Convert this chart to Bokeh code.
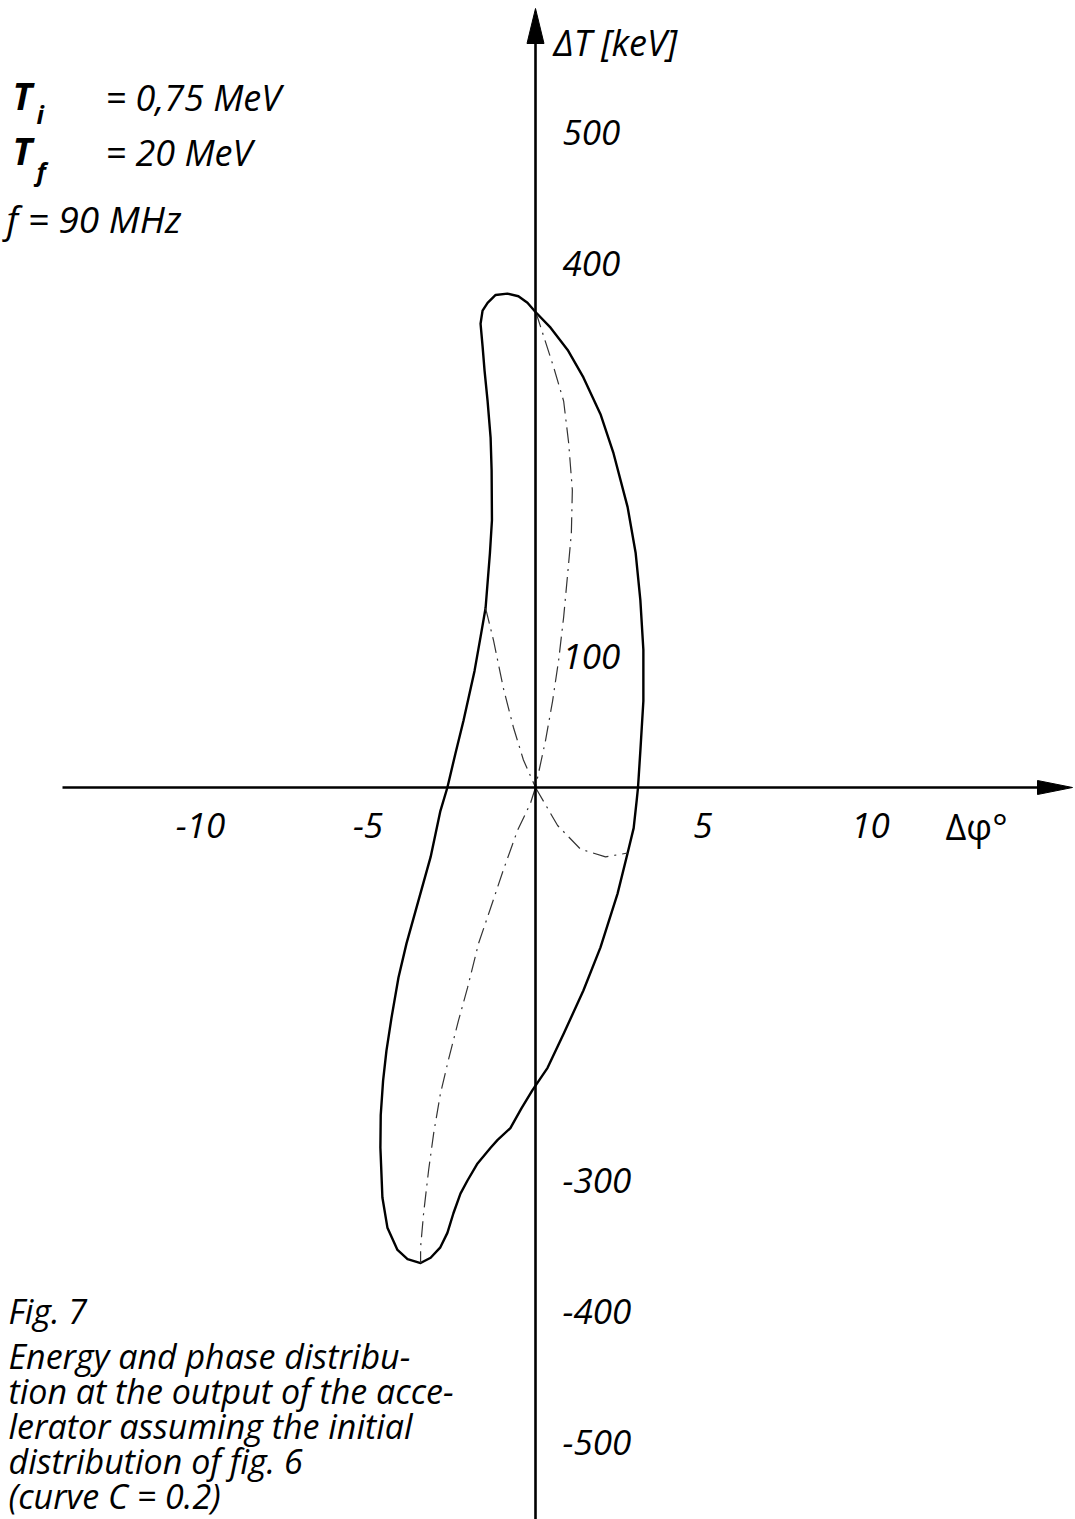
from bokeh.plotting import figure
from bokeh.models import Range1d, LinearAxis, FixedTicker, Label
from bokeh.embed import file_html
from bokeh.resources import INLINE

# Outer boundary of the bunch at the accelerator output (phase in degrees, energy in keV)
outer_dphi = [0.00, 0.45, 0.96, 1.43, 1.94, 2.33, 2.75, 2.99, 3.13, 3.22,
              3.22, 3.13, 3.06, 3.02, 2.93, 2.75, 2.45, 1.94, 1.43, 0.84,
              0.36, -0.09, -0.42, -0.75, -1.13, -1.34, -1.73, -2.03, -2.24, -2.45,
              -2.63, -2.84, -3.13, -3.43, -3.82, -4.12, -4.42, -4.57, -4.63, -4.62,
              -4.55, -4.45, -4.30, -4.09, -3.85, -3.49, -3.13, -2.84, -2.63, -2.39,
              -2.15, -1.82, -1.64, -1.49, -1.36, -1.30, -1.31, -1.34, -1.43, -1.52,
              -1.58, -1.64, -1.58, -1.43, -1.19, -0.84, -0.51, -0.24, 0.00]
outer_dT = [363, 351, 334, 313, 285, 255, 214, 179, 143, 105,
            66, 28, 0, -10, -31, -50, -81, -122, -155, -188,
            -214, -231, -245, -260, -269, -275, -287, -300, -310, -325,
            -340, -351, -359, -363, -360, -353, -336, -313, -275, -250,
            -224, -201, -176, -145, -119, -86, -53, -18, 0, 26,
            51, 89, 115, 137, 179, 204, 242, 267, 295, 318,
            337, 354, 364, 370, 376, 377, 375, 370, 363]

# Inner dash-dot trajectories
inner_a_dphi = [0.00, 0.06, 0.54, 0.84, 0.99, 1.10, 1.07, 0.96, 0.84, 0.69, 0.51, 0.30, 0.09, 0.00]
inner_a_dT = [363, 359, 321, 295, 263, 227, 194, 163, 130, 97, 66, 36, 11, 0]

inner_b_dphi = [-1.49, -1.25, -0.96, -0.66, -0.36, 0.00]
inner_b_dT = [137, 112, 76, 46, 21, 0]

inner_c_dphi = [0.00, -0.15, -0.54, -0.96, -1.34, -1.70, -2.03, -2.30, -2.60, -2.84, -3.04, -3.19, -3.34, -3.43, -3.43]
inner_c_dT = [0, -12, -33, -63, -92, -119, -153, -178, -208, -234, -264, -292, -325, -351, -363]

inner_d_dphi = [0.00, 0.66, 1.34, 2.09, 2.75]
inner_d_dT = [0, -29, -47, -53, -50]

# Axis ticks
x_ticks = [-10, -5, 5, 10]
x_tick_labels = ["-10", "-5", "5", "10"]
y_ticks = [500, 400, 100, -300, -400, -500]
y_tick_labels = ["500", "400", "100", "-300", "-400", "-500"]

# Canvas geometry
W, H = 1075, 1519
OX, OY = 535, 787          # origin on the canvas
SX, SY = 33.5, 1.31        # pixels per degree, pixels per keV

FONT = "Open Sans"


def to_data(px, py):
    return (px - OX) / SX, (OY - py) / SY


p = figure(width=W, height=H, output_backend="svg", toolbar_location=None,
           x_range=Range1d(-OX / SX, (W - OX) / SX),
           y_range=Range1d(-(H - OY) / SY, OY / SY),
           x_axis_location=None, y_axis_location=None,
           min_border=0, outline_line_color=None, background_fill_color="white")
p.grid.visible = False

x_start, _ = to_data(62, 0)
x_tip, _ = to_data(1072, 0)
x_base, _ = to_data(1037, 0)
_, y_tip = to_data(0, 8)
_, y_base = to_data(0, 43)

common = dict(fixed_location=0, axis_line_width=2.6, axis_line_color="black",
              major_tick_line_color=None, minor_tick_line_color=None,
              major_tick_out=0, major_tick_in=0,
              major_label_text_font=FONT, major_label_text_font_style="italic",
              major_label_text_font_size="35px", major_label_text_color="black")

xaxis = LinearAxis(ticker=FixedTicker(ticks=x_ticks), bounds=(x_start, x_base),
                   major_label_overrides=dict(zip(x_ticks, x_tick_labels)),
                   major_label_standoff=25, **common)
p.add_layout(xaxis, "below")

yaxis = LinearAxis(ticker=FixedTicker(ticks=y_ticks), bounds=(p.y_range.start, y_base),
                   major_label_overrides=dict(zip(y_ticks, y_tick_labels)),
                   major_label_standoff=27, **common)
p.add_layout(yaxis, "right")

# Arrow heads at the ends of the axes
hx = 7 / SY
p.patch([x_tip, x_base, x_base], [0, hx, -hx], color="black", line_width=1)
hy = 8.5 / SX
p.patch([0, -hy, hy], [y_tip, y_base, y_base], color="black", line_width=1)

# Phase-space boundary and inner trajectories
p.line(outer_dphi, outer_dT, line_width=2.4, color="black", line_join="round")
for xs, ys in [(inner_a_dphi, inner_a_dT), (inner_b_dphi, inner_b_dT),
               (inner_c_dphi, inner_c_dT), (inner_d_dphi, inner_d_dT)]:
    p.line(xs, ys, line_width=1.2, color="#333333", line_dash="16 6 2 6")


def add_text(px, py, text, size="36px", style="italic", align="left"):
    x, y = to_data(px, py)
    p.add_layout(Label(x=x, y=y, text=text, text_font=FONT, text_font_style=style,
                       text_font_size=size, text_align=align, text_baseline="middle",
                       text_color="black"))


# Axis titles
add_text(553, 42, "ΔT [keV]")
add_text(945, 826, "Δφ°", style="normal")

# Beam parameters
add_text(12, 95, "T", size="37px", style="bold italic")
add_text(36, 113, "i", size="25px", style="bold italic")
add_text(105, 97, "= 0,75 MeV")
add_text(12, 150, "T", size="37px", style="bold italic")
add_text(36, 170, "f", size="25px", style="bold italic")
add_text(105, 152, "= 20 MeV")
add_text(6, 218, "f = 90 MHz", size="37px")

# Caption
caption = ["Fig. 7",
           "Energy and phase distribu-",
           "tion at the output of the acce-",
           "lerator assuming the initial",
           "distribution of fig. 6",
           "(curve C = 0.2)"]
caption_y = [1310, 1355, 1390, 1425, 1460, 1495]
for line, cy in zip(caption, caption_y):
    add_text(8, cy, line, size="34px")

open("out.html", "w").write(file_html(p, INLINE))
